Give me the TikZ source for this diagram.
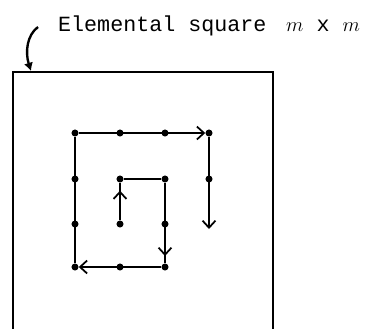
\documentclass[tikz,border=0pt]{standalone}
\usepackage{fontspec}
\setmonofont{Liberation Mono}
\usetikzlibrary{arrows.meta,decorations.markings}
\tikzset{
  dot/.style={circle, fill, inner sep=0pt, minimum size=6pt},
  walk/.style={line width=2pt, line join=round},
  endtip/.style={-{Straight Barb[length=6pt,width=11pt,line width=1.5pt]}},
  midtip/.style={postaction={decorate}, decoration={markings,
      mark=at position #1 with {\arrow{Straight Barb[length=6pt,width=11pt,line width=1.5pt]}}}},
  lbl/.style={font=\ttfamily\fontsize{18.5}{21}\selectfont, inner sep=0pt, anchor=base west}
}
\begin{document}
\begin{tikzpicture}[x=0.03cm, y=-0.03cm]
  \useasboundingbox (0,0) rectangle (367,328);
  \clip (0,0) rectangle (367,328);
  % elemental square, runs off the bottom
  \draw[line width=2.4pt] (13,340) -- (13,72) -- (273,72) -- (273,340);
  % caption and pointer
  \node[lbl] (lbl) at (58,31) {Elemental square};
  \node[lbl] (mxm) at (286,31) {$m$ x $m$};
  \coordinate (hook) at (38,27);
  \coordinate (sqtop) at (31,71);
  \draw[line width=2pt, -{Latex[length=7pt,width=8pt]}] (hook) .. controls (27,35) and (25,52) .. (sqtop);
  % grid points
  \node[dot] (c1r1) at (75,133) {};
  \node[dot] (c2r1) at (120,133) {};
  \node[dot] (c3r1) at (165,133) {};
  \node[dot] (c4r1) at (209,133) {};
  \node[dot] (c1r2) at (75,179) {};
  \node[dot] (c2r2) at (120,179) {};
  \node[dot] (c3r2) at (165,179) {};
  \node[dot] (c4r2) at (209,179) {};
  \node[dot] (c1r3) at (75,224) {};
  \node[dot] (c2r3) at (120,224) {};
  \node[dot] (c3r3) at (165,224) {};
  \node[dot] (c1r4) at (75,267) {};
  \node[dot] (c2r4) at (120,267) {};
  \node[dot] (c3r4) at (165,267) {};
  \coordinate (stop) at (209,229);
  % spiral walk
  \draw[walk, midtip=0.79] (c2r3) -- (c2r2);
  \draw[walk] (c2r2) -- (c3r2);
  \draw[walk, midtip=0.91] (c3r2) -- (c3r4);
  \draw[walk, endtip] (c3r4) -- (c1r4);
  \draw[walk] (c1r4) -- (c1r1);
  \draw[walk, endtip] (c1r1) -- (c4r1);
  \draw[walk, endtip] (c4r1) -- (stop);
\end{tikzpicture}
\end{document}
